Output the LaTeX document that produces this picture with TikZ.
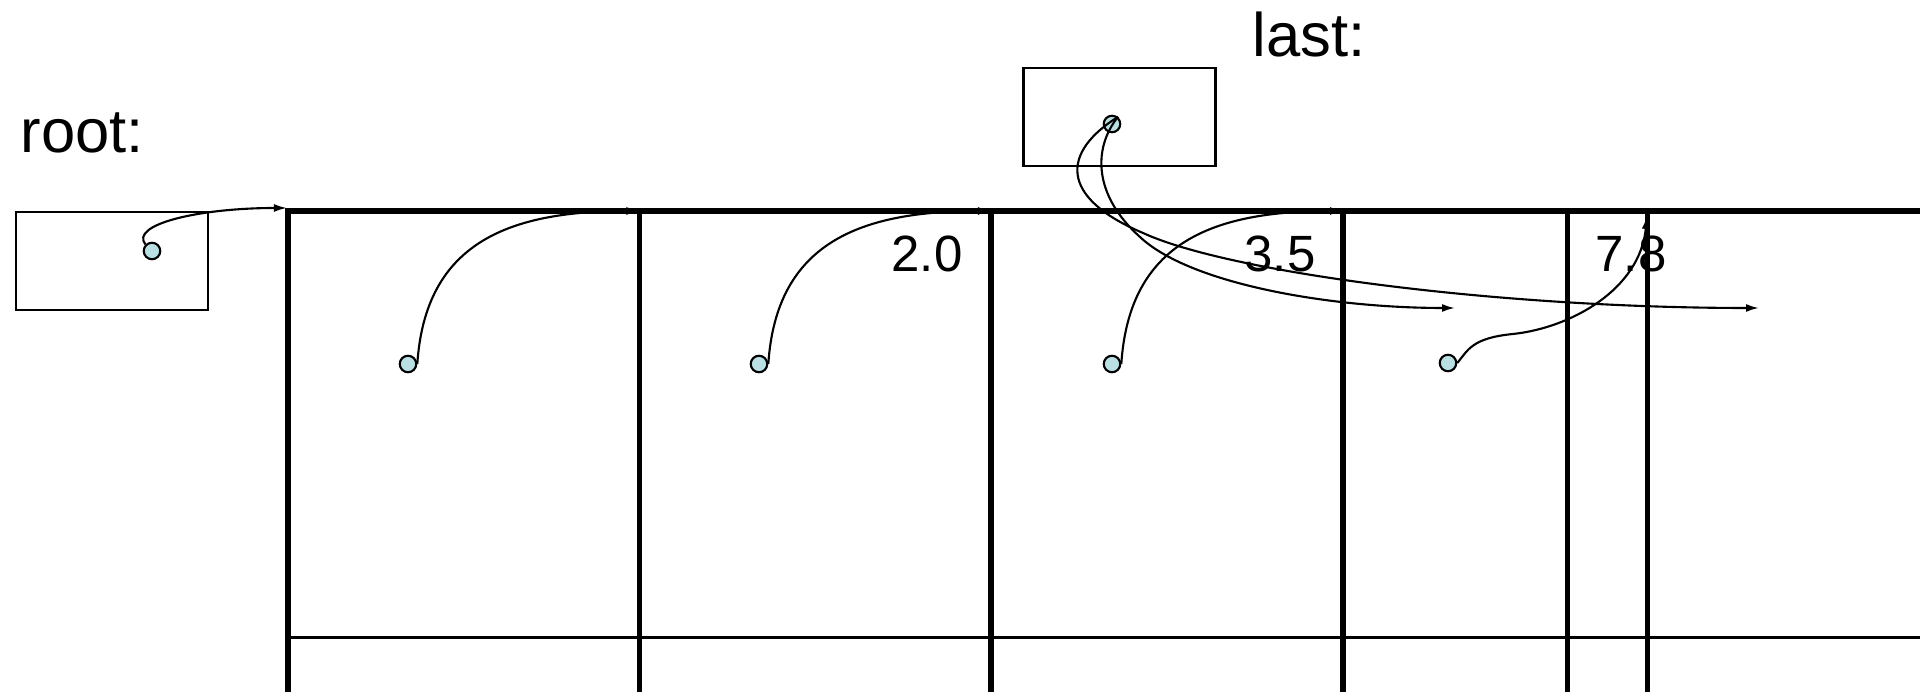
\documentclass[tikz,border=0pt]{standalone}
\usepackage{fontspec}
\setmainfont{Liberation Sans}
\usetikzlibrary{arrows.meta}
\definecolor{dotblue}{RGB}{186,224,227}

\begin{document}
\begin{tikzpicture}[
      x=0.01cm, y=-0.01cm,
      grid/.style={line width=1.6pt, line cap=rect},
      ptrbox/.style={draw, line width=0.65pt, inner sep=0pt, minimum width=1.92cm, minimum height=0.98cm},
      ptr/.style={circle, draw, line width=0.6pt, fill=dotblue, inner sep=0pt, minimum size=0.165cm},
      link/.style={line width=0.6pt},
      lbl/.style={font=\fontsize{17.5}{20}\selectfont, anchor=base west, inner sep=0pt},
      val/.style={font=\fontsize{14.5}{17}\selectfont, anchor=base, inner sep=0pt},
      >={Latex[length=1.3mm,width=0.8mm]}
    ]
    \useasboundingbox (0,0) rectangle (1920,692);

    % Values stored in the cells
    \node[val] (val2) at (927,272) {2.0};
    \node[val] (val3) at (1280,272) {3.5};
    \node[val] (val4) at (1631,272) {7.8};

    % The cell array
    \draw[grid] (288,211) -- (1920,211);
    \draw[line width=0.85pt] (288,638) -- (1920,638);
    \foreach \x [count=\i] in {288,639.5,991,1343,1567.5,1647.5} {
      \draw[grid] (\x,211) -- (\x,692);
      \coordinate (v\i) at (\x,211);
    }

    % root and last pointers
    \node[lbl] (rootlbl) at (20,153) {root:};
    \node[lbl] (lastlbl) at (1252,57) {last:};
    \node[ptrbox] (rootbox) at (112,261) {};
    \node[ptrbox] (lastbox) at (1119.5,117) {};
    \node[ptr] (rootdot) at (152,251) {};
    \node[ptr] (lastdot) at (1112,124) {};

    % next pointers in the cells
    \node[ptr] (d1) at (408,364) {};
    \node[ptr] (d2) at (759,364) {};
    \node[ptr] (d3) at (1112,364) {};
    \node[ptr] (d4) at (1448,363) {};

    \coordinate (head) at (287,208);
    \coordinate (up) at (1647,216);
    \coordinate (nxt) at (1455,308);
    \coordinate (far) at (1759,308);

    \draw[link,->] (rootdot.north west) .. controls +(-16,-20) and +(-88,0) .. (head);
    \draw[link,->] (d1.east) .. controls +(8,-122) and +(-130,0) .. (v2);
    \draw[link,->] (d2.east) .. controls +(8,-122) and +(-130,0) .. (v3);
    \draw[link,->] (d3.east) .. controls +(8,-122) and +(-130,0) .. (v4);
    \draw[link,->] (d4.east) .. controls (1468,350) and (1472,338) .. (1513,334)
                             .. controls (1570,328) and (1640,290) .. (up);

    % last points past the end
    \draw[link,->] (lastdot.50) .. controls (1062,152) and (1058,197) .. (1143,233)
                                .. controls (1230,273) and (1500,308) .. (far);
    \draw[link,->] (lastdot.50) .. controls (1093,148) and (1093,195) .. (1140,237)
                                .. controls (1190,284) and (1330,308) .. (nxt);

\end{tikzpicture}
\end{document}
